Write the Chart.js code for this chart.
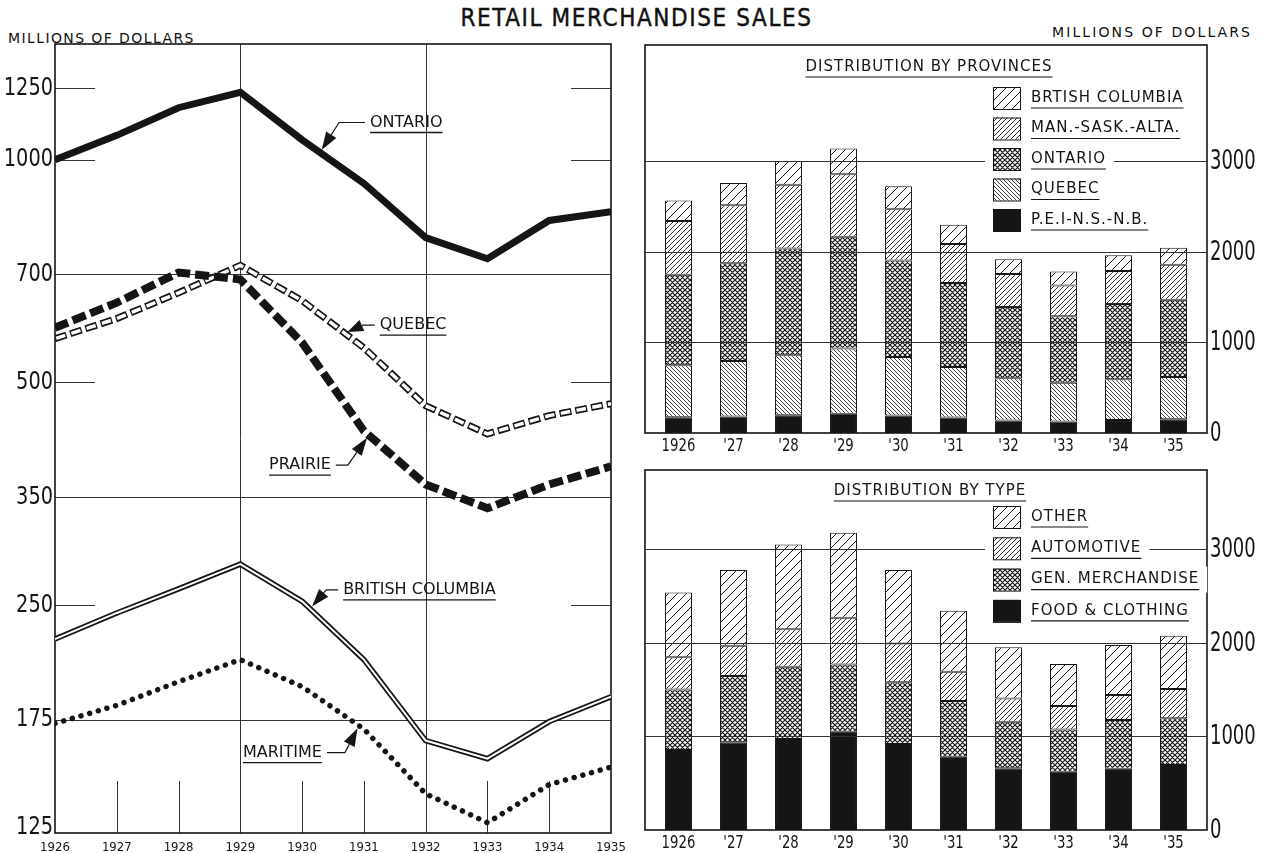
<!DOCTYPE html>
<html>
<head>
<meta charset="utf-8">
<script src="https://cdn.jsdelivr.net/npm/chart.js@4.4.1/dist/chart.umd.min.js"></script>
<style>
  html, body { margin: 0; padding: 0; background: #fff; }
  #page { position: relative; width: 1273px; height: 853px; overflow: hidden; color: #111; }
  canvas { position: absolute; }
  .txt { position: absolute; white-space: nowrap; }
  .small { font: 14px "DejaVu Sans", sans-serif; letter-spacing: 1.4px; }
</style>
</head>
<body>
<div id="page">
  <div class="txt" style="left:0;top:4px;width:1273px;text-align:center;font:24px 'DejaVu Sans Condensed',sans-serif;letter-spacing:1.6px;-webkit-text-stroke:0.4px #111;">RETAIL MERCHANDISE SALES</div>
  <div class="txt small" style="left:8px;top:30px;">MILLIONS OF DOLLARS</div>
  <div class="txt small" style="left:1052px;top:24px;letter-spacing:2.1px;">MILLIONS OF DOLLARS</div>
  <canvas id="lineChart" width="640" height="853" style="left:0;top:0;"></canvas>
  <canvas id="provChart" width="633" height="420" style="left:640px;top:40px;"></canvas>
  <canvas id="typeChart" width="633" height="393" style="left:640px;top:460px;"></canvas>
</div>
<script>
// --- Data (millions of dollars) ---
const years = [1926, 1927, 1928, 1929, 1930, 1931, 1932, 1933, 1934, 1935];
const barLabels = ['1926', "'27", "'28", "'29", "'30", "'31", "'32", "'33", "'34", "'35"];

const ontario  = [1000, 1079, 1176, 1234, 1064, 929, 785, 735, 828, 851];
const quebec   = [573, 610, 661, 720, 645, 557, 465, 426, 451, 468];
const prairie  = [593, 641, 704, 689, 566, 430, 364, 338, 364, 385];
const bc       = [225, 244, 263, 284, 253, 211, 164, 155, 174, 188];
const maritime = [173, 183, 197, 211, 194, 170, 139, 127, 143, 151];

const food     = [854, 936, 971, 1049, 918, 783, 658, 622, 655, 694];
const genMerch = [647, 708, 772, 719, 658, 594, 498, 452, 519, 498];
const auto     = [342, 323, 399, 498, 416, 313, 249, 249, 267, 313];
const other    = [693, 808, 907, 907, 783, 651, 545, 449, 533, 569];

const logTicks = [125, 175, 250, 350, 500, 700, 1000, 1250];
const fullRows = [700, 350, 175];
const shortRows = [1250, 1000, 500, 250];
const fullCols = [1929, 1932];
const shortCols = [1927, 1928, 1930, 1931, 1933, 1934];
const barTicks = [0, 1000, 2000, 3000];

const INK = '#151515';
const COND = '"DejaVu Sans Condensed", "DejaVu Sans", sans-serif';
const SANS = '"DejaVu Sans", sans-serif';

// text squeezed horizontally, like the narrow hand lettering
function squeezed(ctx, text, x, y, align, sx) {
    ctx.save();
    ctx.translate(x, y);
    ctx.scale(sx, 1);
    ctx.textAlign = align;
    ctx.fillText(text, 0, 0);
    ctx.restore();
}

// --- Hatch patterns ---
function hatch(size, dirs, width) {
    const c = document.createElement('canvas');
    c.width = size; c.height = size;
    const g = c.getContext('2d');
    g.fillStyle = '#fff';
    g.fillRect(0, 0, size, size);
    g.strokeStyle = INK;
    g.lineWidth = width;
    g.beginPath();
    if (dirs.includes('/')) {
        g.moveTo(-1, size + 1); g.lineTo(size + 1, -1);
        g.moveTo(-1, 1); g.lineTo(1, -1);
        g.moveTo(size - 1, size + 1); g.lineTo(size + 1, size - 1);
    }
    if (dirs.includes('\\')) {
        g.moveTo(-1, -1); g.lineTo(size + 1, size + 1);
        g.moveTo(size - 1, -1); g.lineTo(size + 1, 1);
        g.moveTo(-1, size - 1); g.lineTo(1, size + 1);
    }
    g.stroke();
    return g.createPattern(c, 'repeat');
}
const patSparse = hatch(9, '/', 1);
const patDense = hatch(5, '/', 0.9);
const patBack = hatch(4, '\\', 0.8);
const patCross = hatch(5, '/\\', 1.2);
const patSolid = INK;

// --- Left chart ---
const pts = arr => years.map((yr, i) => ({ x: yr, y: arr[i] }));

function valueAt(series, t) {
    const i = Math.min(Math.floor(t - years[0]), series.length - 2);
    const f = t - years[0] - i;
    return Math.exp(Math.log(series[i]) * (1 - f) + Math.log(series[i + 1]) * f);
}

const callouts = [
    { text: 'ONTARIO', series: ontario, at: 1930.29, dx: 50, dy: -30, side: 'left', lead: 26 },
    { text: 'QUEBEC', series: quebec, at: 1930.69, dx: 35, dy: -8, side: 'left', lead: 12 },
    { text: 'PRAIRIE', series: prairie, at: 1931.08, dx: -38, dy: 30, side: 'right', lead: 12 },
    { text: 'BRITISH COLUMBIA', series: bc, at: 1930.13, dx: 33, dy: -19, side: 'left', lead: 12 },
    { text: 'MARITIME', series: maritime, at: 1930.92, dx: -37, dy: 27, side: 'right', lead: 18 },
];

const leftGrid = {
    id: 'leftGrid',
    beforeDatasetsDraw(chart) {
        const { ctx, chartArea: a, scales: { x, y } } = chart;
        ctx.save();
        ctx.strokeStyle = '#333';
        ctx.lineWidth = 1;
        ctx.beginPath();
        fullRows.forEach(v => {
            const py = Math.round(y.getPixelForValue(v)) + 0.5;
            ctx.moveTo(a.left, py); ctx.lineTo(a.right, py);
        });
        shortRows.forEach(v => {
            const py = Math.round(y.getPixelForValue(v)) + 0.5;
            ctx.moveTo(a.left, py); ctx.lineTo(a.left + 40, py);
            ctx.moveTo(a.right - 40, py); ctx.lineTo(a.right, py);
        });
        fullCols.forEach(v => {
            const px = Math.round(x.getPixelForValue(v)) + 0.5;
            ctx.moveTo(px, a.top); ctx.lineTo(px, a.bottom);
        });
        shortCols.forEach(v => {
            const px = Math.round(x.getPixelForValue(v)) + 0.5;
            ctx.moveTo(px, a.bottom - 52); ctx.lineTo(px, a.bottom);
        });
        ctx.stroke();
        ctx.lineWidth = 1.6;
        ctx.strokeStyle = INK;
        ctx.strokeRect(a.left, a.top, a.width, a.height);
        // y tick labels
        ctx.fillStyle = INK;
        ctx.font = '25px ' + COND;
        ctx.textBaseline = 'middle';
        y.ticks.forEach(t => squeezed(ctx, String(t.value), a.left - 2, y.getPixelForValue(t.value), 'right', 0.86));
        ctx.restore();
    },
    afterDatasetsDraw(chart) {
        const { ctx, scales: { x, y } } = chart;
        ctx.save();
        ctx.font = '16px ' + SANS;
        ctx.fillStyle = INK;
        ctx.strokeStyle = INK;
        ctx.textBaseline = 'middle';
        callouts.forEach(c => {
            const tx = x.getPixelForValue(c.at);
            const ty = y.getPixelForValue(valueAt(c.series, c.at));
            const w = ctx.measureText(c.text).width;
            const lx = c.side === 'left' ? tx + c.dx : tx + c.dx - w;
            const ly = ty + c.dy;
            ctx.textAlign = 'left';
            ctx.fillText(c.text, lx, ly);
            ctx.lineWidth = 1.3;
            ctx.beginPath();
            ctx.moveTo(lx, ly + 10); ctx.lineTo(lx + w, ly + 10);
            ctx.stroke();
            // leader and arrow head
            const ax = c.side === 'left' ? lx - 5 : lx + w + 5;
            const bx = c.side === 'left' ? ax - c.lead : ax + c.lead;
            let ux = tx - bx, uy = ty - ly;
            const d = Math.hypot(ux, uy);
            ux /= d; uy /= d;
            const ex = tx - ux * 3, ey = ty - uy * 3;
            const L = Math.min(18, d * 0.8);
            const hx = ex - ux * L, hy = ey - uy * L;
            ctx.lineWidth = 1.2;
            ctx.beginPath();
            ctx.moveTo(ax, ly); ctx.lineTo(bx, ly); ctx.lineTo(hx, hy);
            ctx.stroke();
            ctx.beginPath();
            ctx.moveTo(ex, ey);
            ctx.lineTo(hx - uy * 6, hy + ux * 6);
            ctx.lineTo(hx + uy * 6, hy - ux * 6);
            ctx.closePath();
            ctx.fill();
        });
        ctx.restore();
    }
};

const base = { pointRadius: 0, fill: false, tension: 0, borderJoinStyle: 'miter' };

new Chart(document.getElementById('lineChart'), {
    type: 'line',
    data: {
        datasets: [
            { ...base, data: pts(ontario), borderColor: INK, borderWidth: 7, order: 3 },
            { ...base, data: pts(quebec), borderColor: INK, borderWidth: 7, borderDash: [12, 4], order: 4 },
            { ...base, data: pts(quebec), borderColor: '#fff', borderWidth: 3.5, borderDash: [9.5, 6.5], borderDashOffset: -1.25, order: 3 },
            { ...base, data: pts(prairie), borderColor: INK, borderWidth: 8, borderDash: [14, 5], order: 2 },
            { ...base, data: pts(bc), borderColor: INK, borderWidth: 5.5, order: 4 },
            { ...base, data: pts(bc), borderColor: '#fff', borderWidth: 2, order: 3 },
            { ...base, data: pts(maritime), borderColor: INK, borderWidth: 5.5, borderDash: [0.01, 9], borderCapStyle: 'round', order: 3 },
        ]
    },
    options: {
        responsive: false,
        animation: false,
        devicePixelRatio: 1,
        layout: { padding: { top: 44, right: 29, left: 0, bottom: 0 } },
        plugins: { legend: { display: false }, tooltip: { enabled: false } },
        scales: {
            x: {
                type: 'linear', min: 1926, max: 1935,
                grid: { display: false, drawTicks: false },
                border: { display: false },
                afterBuildTicks: s => { s.ticks = years.map(v => ({ value: v })); },
                afterFit: s => { s.height = 20; },
                ticks: { callback: v => String(v), font: { size: 13, family: COND }, color: INK, padding: 7, autoSkip: false, maxRotation: 0 }
            },
            y: {
                type: 'logarithmic', min: 123, max: 1434,
                grid: { display: false, drawTicks: false },
                border: { display: false },
                afterBuildTicks: s => { s.ticks = logTicks.map(v => ({ value: v })); },
                afterFit: s => { s.width = 55; },
                ticks: { display: false }
            }
        }
    },
    plugins: [leftGrid]
});

// --- Bar charts ---
// the frame sits 6px outside the plot area so the bars keep the drawn spacing
const FRAME = 6;
const boxLegend = {
    id: 'boxLegend',
    beforeDatasetsDraw(chart) {
        const { ctx, chartArea: a, scales: { x, y } } = chart;
        ctx.save();
        ctx.lineWidth = 1.6;
        ctx.strokeStyle = INK;
        ctx.strokeRect(a.left - FRAME, a.top, a.width + 2 * FRAME, a.height);
        ctx.fillStyle = INK;
        ctx.textBaseline = 'middle';
        ctx.font = '27px ' + COND;
        y.ticks.forEach(t => squeezed(ctx, String(t.value), a.right + FRAME + 3, y.getPixelForValue(t.value) + 1, 'left', 0.74));
        ctx.font = '18px ' + COND;
        ctx.textBaseline = 'top';
        chart.data.labels.forEach((lab, i) => squeezed(ctx, lab, x.getPixelForValue(i), a.bottom + 4, 'center', 0.82));
        ctx.restore();
    },
    afterDatasetsDraw(chart) {
        const { ctx, chartArea: a, scales: { y } } = chart;
        ctx.save();
        ctx.strokeStyle = '#333';
        ctx.lineWidth = 1;
        ctx.beginPath();
        y.ticks.filter(t => t.value > 0).forEach(t => {
            const py = Math.round(y.getPixelForValue(t.value)) + 0.5;
            ctx.moveTo(a.left - FRAME, py); ctx.lineTo(a.right + FRAME, py);
        });
        ctx.stroke();
        ctx.restore();
    },
    afterDraw(chart, args, opts) {
        const { ctx, chartArea: a } = chart;
        ctx.save();
        ctx.font = '15px ' + SANS;
        ctx.letterSpacing = '1px';
        ctx.textBaseline = 'middle';
        ctx.fillStyle = INK;
        ctx.strokeStyle = INK;
        const tw = ctx.measureText(opts.title).width;
        const titleY = a.top + opts.titleY;
        ctx.textAlign = 'left';
        ctx.fillText(opts.title, opts.titleX - tw / 2, titleY);
        ctx.lineWidth = 1.2;
        ctx.beginPath();
        ctx.moveTo(opts.titleX - tw / 2, titleY + 10); ctx.lineTo(opts.titleX + tw / 2, titleY + 10);
        ctx.stroke();
        const sets = chart.data.datasets.slice().reverse();
        sets.forEach((ds, i) => {
            const cy = a.top + opts.rowY + i * opts.rowGap;
            const w = ctx.measureText(ds.label).width;
            ctx.fillStyle = '#fff';
            ctx.fillRect(opts.x - 8, cy - 13, w + 38 + 16, 26);
            ctx.fillStyle = ds.backgroundColor;
            ctx.fillRect(opts.x, cy - 11, 27, 22);
            ctx.lineWidth = 1;
            ctx.strokeRect(opts.x + 0.5, cy - 10.5, 27, 22);
            ctx.fillStyle = INK;
            ctx.fillText(ds.label, opts.x + 38, cy);
            ctx.lineWidth = 1.2;
            ctx.beginPath();
            ctx.moveTo(opts.x + 38, cy + 10); ctx.lineTo(opts.x + 38 + w, cy + 10);
            ctx.stroke();
        });
        ctx.restore();
    }
};

function barChart(id, sets, yMax, padTop, xHeight, legendOpts) {
    return new Chart(document.getElementById(id), {
        type: 'bar',
        data: {
            labels: barLabels,
            datasets: sets.map(d => ({
                ...d, borderColor: INK, borderWidth: 1, borderSkipped: false,
                barPercentage: 0.49, categoryPercentage: 1
            }))
        },
        options: {
            responsive: false,
            animation: false,
            devicePixelRatio: 1,
            layout: { padding: { left: 5 + FRAME, top: padTop, right: FRAME, bottom: 0 } },
            plugins: { legend: { display: false }, tooltip: { enabled: false }, boxLegend: legendOpts },
            scales: {
                x: {
                    stacked: true,
                    grid: { display: false, drawTicks: false },
                    border: { display: false },
                    afterFit: s => { s.height = xHeight; s.paddingLeft = 0; s.paddingRight = 0; },
                    ticks: { display: false }
                },
                y: {
                    stacked: true, position: 'right', min: 0, max: yMax,
                    grid: { display: false, drawTicks: false },
                    border: { display: false },
                    afterBuildTicks: s => { s.ticks = barTicks.map(v => ({ value: v })); },
                    afterFit: s => { s.width = 66; s.paddingTop = 0; s.paddingBottom = 0; },
                    ticks: { display: false }
                }
            }
        },
        plugins: [boxLegend]
    });
}

barChart('provChart', [
    { label: 'P.E.I-N.S.-N.B.', data: maritime, backgroundColor: patSolid },
    { label: 'QUEBEC', data: quebec, backgroundColor: patBack },
    { label: 'ONTARIO', data: ontario, backgroundColor: patCross },
    { label: 'MAN.-SASK.-ALTA.', data: prairie, backgroundColor: patDense },
    { label: 'BRTISH COLUMBIA', data: bc, backgroundColor: patSparse },
], 4280, 5, 27, { title: 'DISTRIBUTION BY PROVINCES', titleX: 289, titleY: 22, x: 353, rowY: 53, rowGap: 30.5 });

barChart('typeChart', [
    { label: 'FOOD & CLOTHING', data: food, backgroundColor: patSolid },
    { label: 'GEN. MERCHANDISE', data: genMerch, backgroundColor: patCross },
    { label: 'AUTOMOTIVE', data: auto, backgroundColor: patDense },
    { label: 'OTHER', data: other, backgroundColor: patSparse },
], 3843, 10, 23, { title: 'DISTRIBUTION BY TYPE', titleX: 290, titleY: 21, x: 353, rowY: 47, rowGap: 31.3 });
</script>
</body>
</html>
